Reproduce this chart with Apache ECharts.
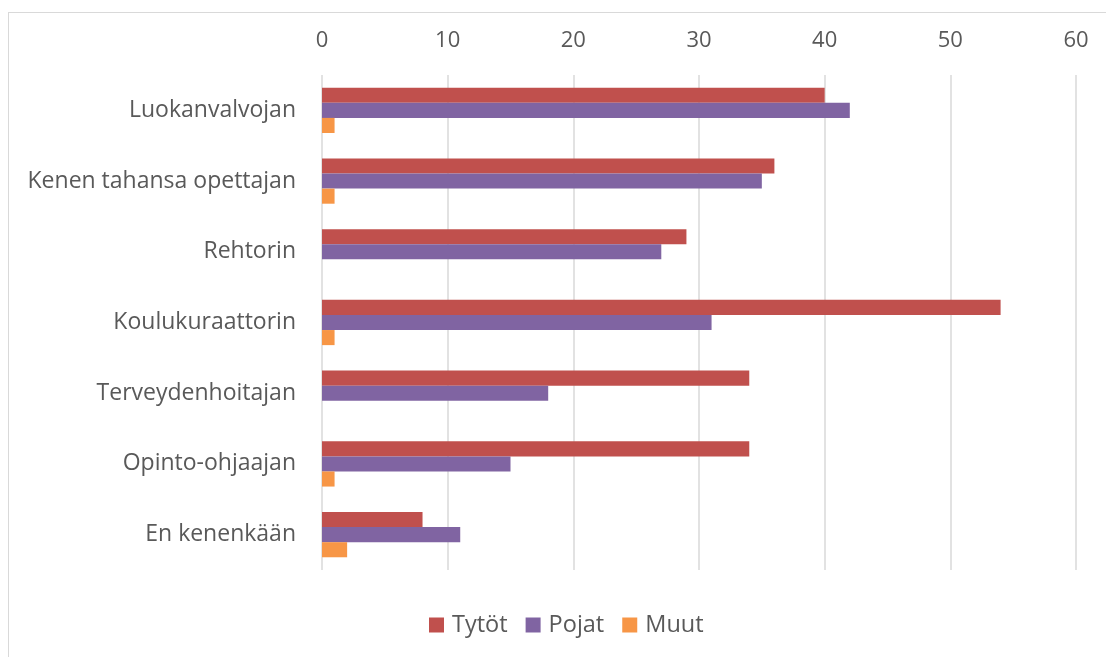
<!DOCTYPE html>
<html>
<head>
<meta charset="utf-8">
<script src="https://cdn.jsdelivr.net/npm/echarts@6/dist/echarts.min.js"></script>
<style>
  html, body { margin: 0; padding: 0; background: #fff; }
  .outbox {
    position: absolute; left: 8px; top: 12px; width: 1110px; height: 660px;
    border: 1px solid #d9d9d9; box-sizing: border-box;
  }
  #chart { position: absolute; left: 0; top: 0; width: 1106px; height: 657px; }
</style>
</head>
<body>
<div class="outbox"></div>
<div id="chart"></div>
<script>
// kategoriat ylhäältä alas
var categories = ["Luokanvalvojan", "Kenen tahansa opettajan", "Rehtorin", "Koulukuraattorin",
  "Terveydenhoitajan", "Opinto-ohjaajan", "En kenenkään"];
var tytot = [40, 36, 29, 54, 34, 34, 8];
var pojat = [42, 35, 27, 31, 18, 15, 11];
var muut = [1, 1, 0, 1, 0, 1, 2];
var seriesNames = ["Tytöt", "Pojat", "Muut"];
var colors = ["#c0504d", "#8064a2", "#f79646"];

var chart = echarts.init(document.getElementById("chart"));
var font = "'Open Sans', 'Noto Sans', sans-serif";

function bar(name, data, color) {
  return {
    name: name,
    type: "bar",
    data: data,
    barGap: "0%",
    barCategoryGap: "36%",
    itemStyle: { color: color }
  };
}

chart.setOption({
  animation: false,
  color: colors,
  grid: { left: 322, right: 30, top: 75, bottom: 87, containLabel: false },
  legend: {
    bottom: 15,
    left: 424,
    itemWidth: 15,
    itemHeight: 15,
    itemGap: 18,
    icon: "rect",
    textStyle: { fontFamily: font, fontSize: 23.5, color: "#595959", padding: [0, 0, 0, 3] },
    data: seriesNames
  },
  xAxis: {
    type: "value",
    position: "top",
    min: 0,
    max: 60,
    interval: 10,
    axisLine: { show: false },
    axisTick: { show: false },
    axisLabel: { fontFamily: font, fontSize: 22, color: "#595959", margin: 23 },
    splitLine: { lineStyle: { color: "#d9d9d9", width: 1.5 } }
  },
  yAxis: {
    type: "category",
    inverse: true,
    data: categories,
    axisLine: { show: false },
    axisTick: { show: false },
    axisLabel: { fontFamily: font, fontSize: 23, color: "#595959", margin: 26 }
  },
  series: [
    bar(seriesNames[0], tytot, colors[0]),
    bar(seriesNames[1], pojat, colors[1]),
    bar(seriesNames[2], muut, colors[2])
  ]
});
</script>
</body>
</html>
